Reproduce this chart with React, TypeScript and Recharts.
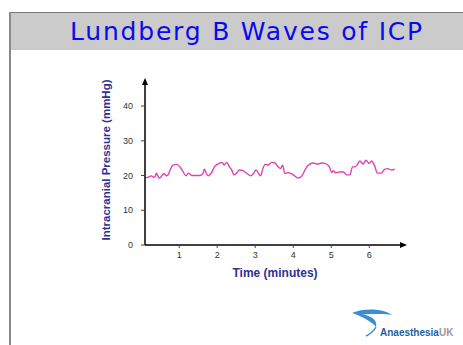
import React from "react";
import { LineChart, Line, XAxis, YAxis, ReferenceDot } from "recharts";

const timeMinutes = [
  0.12, 0.2, 0.27, 0.33, 0.36, 0.4, 0.44, 0.47, 0.52, 0.56, 0.6, 0.67, 0.72, 0.76, 0.84, 0.93,
  1.02, 1.1, 1.18, 1.24, 1.33, 1.54, 1.62, 1.66, 1.7, 1.76, 1.83, 1.94, 2.07, 2.13, 2.18, 2.25,
  2.32, 2.38, 2.44, 2.51, 2.58, 2.68, 2.79, 2.88, 2.95, 3.02, 3.08, 3.14, 3.21, 3.26, 3.34, 3.43,
  3.52, 3.6, 3.67, 3.72, 3.78, 3.87, 4.0, 4.13, 4.22, 4.31, 4.37, 4.53, 4.63, 4.75, 4.83, 4.95,
  5.01, 5.05, 5.12, 5.21, 5.32, 5.4, 5.49, 5.56, 5.61, 5.68, 5.75, 5.84, 5.91, 6.0, 6.06, 6.15,
  6.21, 6.32, 6.4, 6.49, 6.58, 6.67,
];
const icpValues = [
  19.3, 19.6, 19.9, 19.5, 19.6, 20.7, 19.8, 19.3, 19.6, 20.2, 20.5, 19.9, 20.4, 21.6, 23.0, 23.2,
  22.5, 21.1, 19.9, 20.7, 20.0, 20.0, 20.5, 21.8, 21.0, 19.9, 20.5, 22.7, 23.6, 23.8, 23.0, 23.8,
  22.5, 21.6, 20.2, 20.7, 21.6, 21.4, 20.5, 19.9, 20.5, 21.6, 20.7, 19.9, 22.3, 23.2, 23.0, 23.8,
  23.6, 22.5, 22.0, 23.0, 20.6, 20.8, 20.2, 19.3, 19.8, 21.6, 22.7, 23.6, 23.3, 23.6, 23.5, 22.5,
  20.8, 21.4, 20.8, 21.0, 21.0, 20.2, 20.2, 22.5, 22.5, 23.0, 24.2, 23.3, 24.4, 23.5, 24.2, 22.5,
  20.7, 20.7, 21.8, 22.0, 21.6, 21.8,
];
const xTicks = [1, 2, 3, 4, 5, 6];
const yTicks = [0, 10, 20, 30, 40];
const xDomain: [number, number] = [0.1, 6.94];
const yDomain: [number, number] = [0, 47.5];
const xLabel = "Time (minutes)";
const yLabel = "Intracranial Pressure (mmHg)";

const data = timeMinutes.map((t, i) => ({ t, icp: icpValues[i] }));

const ArrowRight = (props: any) => {
  const { cx, cy } = props;
  return <path d={`M${cx + 2},${cy} L${cx - 5},${cy - 3} L${cx - 5},${cy + 3} Z`} fill="#000" />;
};
const ArrowUp = (props: any) => {
  const { cx, cy } = props;
  return <path d={`M${cx},${cy - 2} L${cx - 3},${cy + 5} L${cx + 3},${cy + 5} Z`} fill="#000" />;
};

export default function App() {
  return (
    <div
      style={{
        position: "absolute",
        left: 0,
        top: 0,
        width: 463,
        height: 345,
        background: "#fff",
        overflow: "hidden",
        fontFamily: "'Liberation Sans', Arial, sans-serif",
      }}
    >
      {/* title bar */}
      <div
        style={{
          position: "absolute",
          left: 9,
          top: 12,
          width: 454,
          height: 38,
          background: "#cbcbcb",
          borderTop: "1px solid #7a7a7a",
          boxSizing: "border-box",
        }}
      />
      <div style={{ position: "absolute", left: 9, top: 12, width: 2, height: 333, background: "#8a8a8a" }} />
      <div
        style={{
          position: "absolute",
          left: 9,
          top: 14,
          width: 454,
          height: 36,
          textAlign: "center",
          paddingLeft: 22,
          boxSizing: "border-box",
          fontFamily: "'DejaVu Sans', Verdana, sans-serif",
          fontSize: 25,
          letterSpacing: 1.8,
          lineHeight: "36px",
          color: "#0a0aee",
        }}
      >
        Lundberg B Waves of ICP
      </div>

      <div style={{ position: "absolute", left: 0, top: 0 }}>
        <LineChart
          width={463}
          height={345}
          data={data}
          margin={{ top: 80, right: 58, bottom: 99, left: 144 }}
        >
          <XAxis
            dataKey="t"
            type="number"
            domain={xDomain}
            ticks={xTicks}
            allowDataOverflow
            height={1}
            axisLine={{ stroke: "#000", strokeWidth: 1.5 }}
            tickLine={{ stroke: "#444" }}
            tickSize={3}
            tickMargin={4}
            tick={{ fontSize: 9, fill: "#333", fontFamily: "'Liberation Sans', Arial, sans-serif" }}
            label={{
              value: xLabel,
              position: "bottom",
              offset: 22,
              fill: "#2e3192",
              fontSize: 12,
              fontWeight: "bold",
            }}
          />
          <YAxis
            type="number"
            domain={yDomain}
            ticks={yTicks}
            allowDataOverflow
            width={1}
            axisLine={{ stroke: "#000", strokeWidth: 1.5 }}
            tickLine={{ stroke: "#444" }}
            tickSize={4}
            tickMargin={8}
            tick={{ fontSize: 9, fill: "#333", fontFamily: "'Liberation Sans', Arial, sans-serif" }}
          />
          <ReferenceDot x={xDomain[1]} y={0} ifOverflow="visible" shape={ArrowRight} />
          <ReferenceDot x={xDomain[0]} y={yDomain[1]} ifOverflow="visible" shape={ArrowUp} />
          <Line
            type="monotone"
            dataKey="icp"
            stroke="#e040b4"
            strokeWidth={1.4}
            dot={false}
            isAnimationActive={false}
          />
        </LineChart>
      </div>

      {/* y axis title */}
      <svg style={{ position: "absolute", left: 0, top: 0, pointerEvents: "none" }} width={463} height={345}>
        <text
          x={0}
          y={0}
          transform="translate(110,160) rotate(-90)"
          textAnchor="middle"
          fontSize={11.5}
          fontWeight="bold"
          fill="#2e3192"
          fontFamily="'Liberation Sans', Arial, sans-serif"
        >
          {yLabel}
        </text>
      </svg>

      {/* logo */}
      <svg style={{ position: "absolute", left: 340, top: 305 }} width={123} height={40}>
        <path d="M12,8 C25,2 45,4 52,10 C40,8 30,10 22,9 C30,11 38,14 36,22 C33,18 26,13 12,8 Z" fill="#3a8fd0" />
        <path d="M36,22 C34,26 30,29 26,31" stroke="#3a8fd0" strokeWidth={1.5} fill="none" />
        <text x={40} y={31} fontSize={10} fontWeight="bold" fill="#1f5fa0" fontFamily="'Liberation Sans', Arial, sans-serif">
          Anaesthesia<tspan fill="#9a9a9a">UK</tspan>
        </text>
      </svg>
    </div>
  );
}
